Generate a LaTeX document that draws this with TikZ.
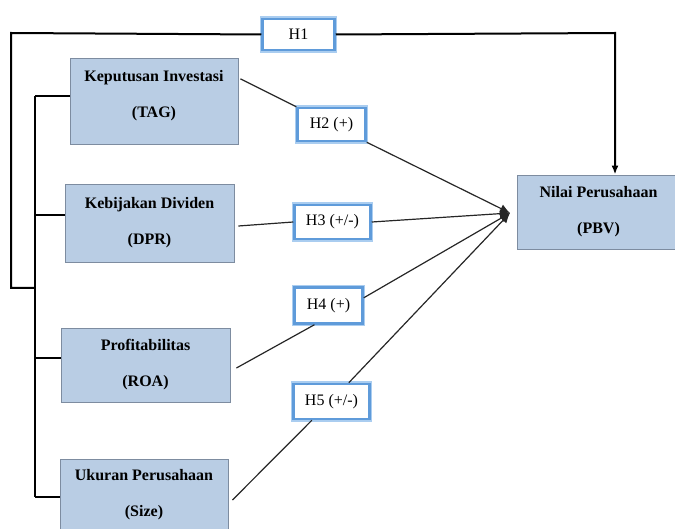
\documentclass[tikz,border=0pt]{standalone}
\usepackage{fontspec}
\setmainfont{Liberation Serif}
\usetikzlibrary{arrows.meta,calc}
\definecolor{varfill}{RGB}{185,205,228}
\definecolor{varline}{RGB}{125,140,160}
\definecolor{glowout}{RGB}{170,205,240}
\definecolor{glowin}{RGB}{95,155,218}
\begin{document}
\begin{tikzpicture}[x=1pt,y=-1pt,
  varbox/.style={draw=varline, line width=0.9pt, fill=varfill, align=center,
    font=\fontsize{16}{19}\selectfont\bfseries, inner sep=0pt},
  hbox/.style={draw=glowin, line width=2.5pt, fill=white,
    preaction={draw=glowout, line width=5.5pt},
    font=\fontsize{16}{19}\selectfont, inner sep=0pt},
  link/.style={line width=1.2pt, draw=black!85},
  bracket/.style={line width=2pt},
  tipc/.style={-{Latex[length=10pt,width=9pt]}},
  tipt/.style={-{Latex[length=9pt,width=7pt]}}]
\path[use as bounding box] (0,0) rectangle (675,529);
\clip (0,0) rectangle (675,529);

% variable boxes
\node[varbox, minimum width=168pt, minimum height=86pt] (kep) at (154,101) {Keputusan Investasi\\[17pt](TAG)\\[-5pt]\mbox{}};
\node[varbox, minimum width=169pt, minimum height=78pt] (keb) at (149.5,223) {Kebijakan Dividen\\[17pt](DPR)};
\node[varbox, minimum width=169pt, minimum height=74pt] (pro) at (145.5,365) {Profitabilitas\\[17pt](ROA)};
\node[varbox, minimum width=168pt, minimum height=72pt] (uku) at (144,495) {Ukuran Perusahaan\\[17pt](Size)};
\node[varbox, minimum width=163pt, minimum height=74pt] (nil) at (598.5,212) {Nilai Perusahaan\\[17pt](PBV)};

% hypothesis boxes
\node[hbox, minimum width=72pt, minimum height=31pt] (h1) at (298.5,34.5) {H1};
\node[hbox, minimum width=68pt, minimum height=33pt] (h2) at (331.5,124.5) {H2 (+)};
\node[hbox, minimum width=76pt, minimum height=34pt] (h3) at (332.5,222) {H3 (+/-)};
\node[hbox, minimum width=68pt, minimum height=36pt] (h4) at (328.5,305.5) {H4 (+)};
\node[hbox, minimum width=76pt, minimum height=35pt] (h5) at (331.5,401.5) {H5 (+/-)};

% helper coordinates
\coordinate (conv) at (510,213);
\coordinate (tl) at (11,33);
\coordinate (bl) at (11,288);
\coordinate (jn) at (35,288);
\coordinate (tr) at (615,33);
\coordinate (kepst) at ($(kep.west)+(0,-5)$);
\coordinate (kebst) at ($(keb.west)+(0,-8)$);
\coordinate (prost) at ($(pro.west)+(0,-7)$);
\coordinate (ukust) at ($(uku.west)+(0,2)$);

% bracket lines
\draw[bracket] (h1.west) -- (tl) -- (bl) -- (jn);
\draw[bracket, tipt] (h1.east) -- (tr) -- (tr |- nil.north);
\draw[bracket] (kepst -| jn) -- (ukust -| jn);
\draw[bracket] (kepst -| jn) -- (kepst);
\draw[bracket] (kebst -| jn) -- (kebst);
\draw[bracket] (prost -| jn) -- (prost);
\draw[bracket] (ukust -| jn) -- (ukust);

% hypothesis links
\draw[link] ($(kep.north east)!0.245!(kep.south east)+(2,0)$) -- (h2.north west);
\draw[link, tipc] (h2.south east) -- (conv);
\draw[link] ($(keb.east)+(4,3)$) -- (h3.west);
\draw[link, tipc] (h3.east) -- (conv);
\draw[link] ($(pro.east)+(6,3)$) -- ($(h4.south west)!0.3!(h4.south east)$);
\draw[link, tipc] ($(h4.north east)!0.3!(h4.south east)$) -- (conv);
\draw[link] ($(uku.east)+(4,5)$) -- ($(h5.south west)!0.25!(h5.south east)$);
\draw[link, tipc] ($(h5.north west)!0.72!(h5.north east)$) -- (conv);
\end{tikzpicture}
\end{document}
